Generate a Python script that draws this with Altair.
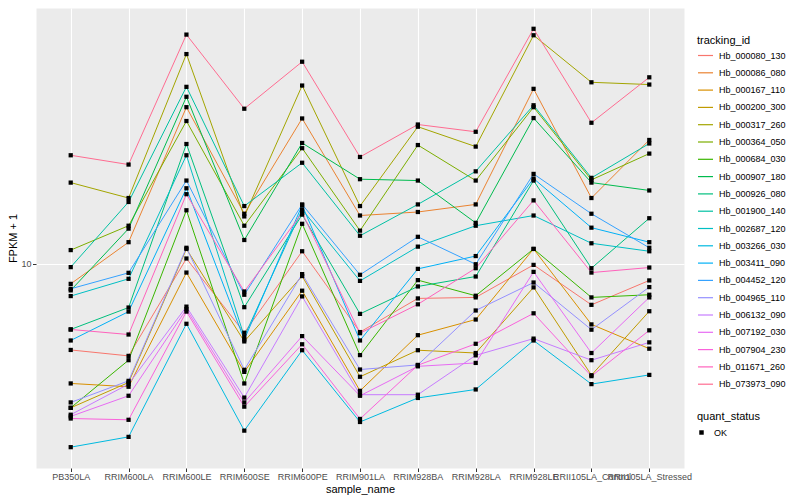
import altair as alt
import pandas as pd

samples = ["PB350LA", "RRIM600LA", "RRIM600LE", "RRIM600SE", "RRIM600PE",
           "RRIM901LA", "RRIM928BA", "RRIM928LA", "RRIM928LE",
           "RRII105LA_Control", "RRII105LA_Stressed"]

tracking_ids = ["Hb_000080_130", "Hb_000086_080", "Hb_000167_110", "Hb_000200_300",
                "Hb_000317_260", "Hb_000364_050", "Hb_000684_030", "Hb_000907_180",
                "Hb_000926_080", "Hb_001900_140", "Hb_002687_120", "Hb_003266_030",
                "Hb_003411_090", "Hb_004452_120", "Hb_004965_110", "Hb_006132_090",
                "Hb_007192_030", "Hb_007904_230", "Hb_011671_260", "Hb_073973_090"]

palette = ["#F8766D", "#EA8331", "#D89000", "#C09B00", "#A3A500", "#7CAE00",
           "#39B600", "#00BB4E", "#00BF7D", "#00C1A3", "#00BFC4", "#00BAE0",
           "#00B0F6", "#35A2FF", "#9590FF", "#C77CFF", "#E76BF3", "#FA62DB",
           "#FF62BC", "#FF6C91"]

# FPKM + 1 per sample (order of `samples`)
hb_000080_130 = [5.13, 4.90, 10.4, 5.86, 11.0, 5.89, 7.64, 7.70, 9.90, 7.27, 8.78]
hb_000086_080 = [8.55, 11.8, 33.5, 14.7, 30.7, 14.5, 14.9, 15.8, 38.6, 16.6, 26.0]
hb_000167_110 = [3.96, 3.86, 9.33, 4.33, 8.11, 3.74, 5.75, 6.49, 11.2, 6.25, 5.18]
hb_000200_300 = [3.28, 3.99, 11.2, 5.48, 9.08, 4.17, 5.12, 5.01, 8.32, 4.22, 6.92]
hb_000317_260 = [18.7, 16.6, 50.5, 14.4, 39.6, 15.6, 28.8, 24.7, 58.4, 40.6, 39.9]
hb_000364_050 = [11.1, 13.4, 30.1, 13.4, 24.4, 12.9, 25.0, 19.0, 33.5, 19.1, 23.4]
hb_000684_030 = [3.28, 4.74, 15.1, 3.96, 13.6, 4.93, 8.80, 7.80, 11.2, 7.70, 7.86]
hb_000907_180 = [8.13, 13.1, 36.3, 12.0, 25.4, 19.2, 19.0, 13.7, 30.8, 18.7, 17.6]
hb_000926_080 = [6.01, 7.12, 25.2, 7.14, 14.6, 6.78, 8.38, 9.05, 19.0, 9.65, 14.2]
hb_001900_140 = [9.73, 16.1, 39.2, 15.6, 21.8, 12.4, 15.8, 20.4, 34.0, 19.4, 25.3]
hb_002687_120 = [7.78, 8.89, 23.1, 5.69, 15.2, 8.75, 11.4, 13.4, 14.5, 11.7, 11.0]
hb_003266_030 = [2.42, 2.62, 6.28, 2.75, 5.12, 2.94, 3.54, 3.78, 5.52, 3.94, 4.23]
hb_003411_090 = [5.52, 6.90, 17.9, 5.56, 15.7, 5.52, 9.60, 10.6, 19.3, 13.2, 11.8]
hb_004452_120 = [8.23, 9.31, 19.0, 7.86, 15.8, 9.17, 12.3, 9.95, 20.0, 14.7, 11.3]
hb_004965_110 = [3.42, 4.04, 11.3, 4.40, 9.22, 4.41, 4.57, 6.96, 8.64, 6.00, 8.34]
hb_006132_090 = [3.11, 3.94, 7.17, 3.55, 7.76, 3.63, 3.63, 4.92, 5.60, 4.74, 5.44]
hb_007192_030 = [3.07, 3.60, 7.03, 3.42, 5.71, 3.60, 4.52, 4.64, 9.38, 5.01, 7.70]
hb_007904_230 = [3.02, 2.99, 6.90, 3.31, 5.36, 3.01, 4.56, 5.38, 6.81, 4.19, 5.97]
hb_011671_260 = [6.01, 5.78, 17.1, 8.06, 14.8, 5.84, 7.30, 9.65, 16.3, 9.33, 9.70]
hb_073973_090 = [23.1, 21.5, 58.7, 33.1, 47.6, 22.8, 29.3, 27.7, 61.4, 29.7, 42.2]

series = [hb_000080_130, hb_000086_080, hb_000167_110, hb_000200_300, hb_000317_260,
          hb_000364_050, hb_000684_030, hb_000907_180, hb_000926_080, hb_001900_140,
          hb_002687_120, hb_003266_030, hb_003411_090, hb_004452_120, hb_004965_110,
          hb_006132_090, hb_007192_030, hb_007904_230, hb_011671_260, hb_073973_090]

rows = []
for tid, vals in zip(tracking_ids, series):
    for i, (s, v) in enumerate(zip(samples, vals)):
        rows.append({"tracking_id": tid, "sample_name": s, "idx": i,
                     "fpkm": v, "quant_status": "OK"})
df = pd.DataFrame(rows)

FONT = "Liberation Sans"

x_enc = alt.X("sample_name:N", sort=samples,
              scale=alt.Scale(type="point", padding=0.6),
              axis=alt.Axis(title="sample_name", labelAngle=0, labelOverlap=False,
                            labelBound=False, labelLimit=0, labelPadding=1,
                            titlePadding=2))
y_enc = alt.Y("fpkm:Q",
              scale=alt.Scale(type="log", domain=[2.06, 72.1], nice=False, zero=False),
              axis=alt.Axis(title="FPKM + 1", values=[10], format="~g",
                            labelPadding=1.5, titlePadding=2))

lines = alt.Chart(df).mark_line(strokeWidth=1).encode(
    x=x_enc,
    y=y_enc,
    color=alt.Color("tracking_id:N",
                    scale=alt.Scale(domain=tracking_ids, range=palette),
                    legend=alt.Legend(title="tracking_id", orient="none",
                                      legendX=661, legendY=27,
                                      symbolType="stroke", symbolSize=225,
                                      symbolStrokeWidth=1.2, rowPadding=3.3,
                                      labelOffset=5, titlePadding=1,
                                      labelFontSize=9, titleFontSize=11,
                                      titleFontWeight="normal", titleColor="black",
                                      labelColor="black")),
    order=alt.Order("idx:Q"),
)

points = alt.Chart(df).mark_point(shape="square", filled=True, color="black",
                                   opacity=1, size=18).encode(
    x=x_enc,
    y=y_enc,
    shape=alt.Shape("quant_status:N",
                    scale=alt.Scale(domain=["OK"], range=["square"]),
                    legend=alt.Legend(title="quant_status", orient="none",
                                      legendX=661, legendY=403,
                                      symbolSize=20, symbolFillColor="black",
                                      symbolStrokeColor="black", symbolOpacity=1,
                                      labelOffset=8, titlePadding=6,
                                      labelFontSize=9, titleFontSize=11,
                                      titleFontWeight="normal", titleColor="black",
                                      labelColor="black")),
)

chart = alt.layer(lines, points).properties(
    width=648, height=460,
    autosize=alt.AutoSizeParams(type="none"),
    padding={"left": 28, "top": 0, "right": 108, "bottom": 32},
).configure(font=FONT).configure_view(
    fill="#EBEBEB", stroke="transparent"
).configure_axis(
    domain=False, grid=True, gridColor="white", gridWidth=1.1,
    tickColor="#333333", tickSize=3.5, tickWidth=1,
    labelFontSize=9, labelColor="#4D4D4D",
    titleFontSize=11, titleColor="black", titleFontWeight="normal",
)

chart.save("out.html", embed_options={"renderer": "svg", "actions": False})
